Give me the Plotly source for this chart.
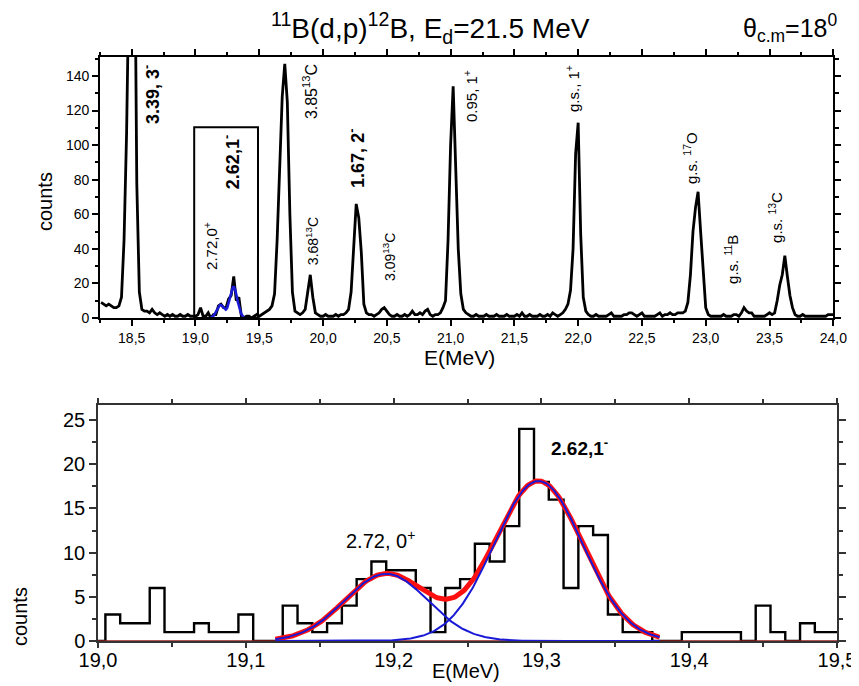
import numpy as np
import plotly.graph_objects as go

# ---------------- data ----------------
# Top panel: 11B(d,p)12B spectrum, counts on a 0.02 MeV grid starting at 18.26 MeV
spectrum_start = 18.26
spectrum_step = 0.02
spectrum_counts = [
    9, 8, 7, 8, 7, 6, 6, 7, 12, 45,            # 18.26 - 18.44
    107, 200, 300, 260, 78, 15, 5, 4, 4, 3,     # 18.46 - 18.64
    5, 3, 2, 3, 2, 1, 2, 1, 2, 1,               # 18.66 - 18.84
    1, 2, 1, 1, 2, 1, 1, 1, 2, 6,               # 18.86 - 19.04
    1, 1, 3, 0, 2, 2, 7, 8, 6, 6,               # 19.06 - 19.24
    11, 13, 24, 10, 12, 1, 0, 1, 1, 0,          # 19.26 - 19.44
    1, 2, 1, 2, 3, 4, 5, 7, 14, 45,             # 19.46 - 19.64
    85, 128, 147, 125, 60, 15, 4, 3, 2, 3,      # 19.66 - 19.84
    5, 15, 25, 12, 3, 2, 1, 1, 2, 1,            # 19.86 - 20.04
    1, 1, 2, 1, 2, 2, 3, 5, 15, 38,             # 20.06 - 20.24
    66, 58, 38, 8, 3, 2, 2, 1, 2, 3,            # 20.26 - 20.44
    5, 6, 4, 2, 1, 1, 2, 1, 1, 2,               # 20.46 - 20.64
    1, 2, 4, 2, 2, 3, 2, 4, 5, 2,               # 20.66 - 20.84
    1, 2, 2, 3, 6, 10, 45, 100, 134, 80,        # 20.86 - 21.04
    40, 14, 5, 3, 2, 1, 1, 2, 1, 1,             # 21.06 - 21.24
    1, 2, 1, 1, 1, 2, 1, 1, 1, 2,               # 21.26 - 21.44
    1, 1, 1, 2, 1, 3, 1, 1, 2, 1,               # 21.46 - 21.64
    1, 1, 2, 1, 1, 2, 1, 3, 2, 1,               # 21.66 - 21.84
    2, 3, 5, 8, 16, 40, 95, 113, 48, 12,        # 21.86 - 22.04
    4, 2, 1, 1, 2, 1, 1, 1, 1, 2,               # 22.06 - 22.24
    3, 1, 1, 1, 1, 2, 2, 3, 3, 2,               # 22.26 - 22.44
    1, 2, 3, 1, 1, 1, 1, 1, 2, 3,               # 22.46 - 22.64
    1, 2, 2, 3, 2, 2, 3, 3, 3, 4,               # 22.66 - 22.84
    9, 25, 50, 64, 73, 50, 25, 6, 2, 1,         # 22.86 - 23.04
    1, 1, 1, 1, 2, 1, 1, 1, 2, 2,               # 23.06 - 23.24
    1, 3, 6, 4, 3, 3, 1, 1, 1, 1,               # 23.26 - 23.44
    1, 2, 3, 2, 3, 10, 19, 25, 36, 24,          # 23.46 - 23.64
    13, 6, 2, 1, 1, 2, 1, 1, 1, 1,              # 23.66 - 23.84
    1, 1, 1, 1, 1, 2, 2, 2,                     # 23.86 - 24.00
]

# Bottom panel: zoomed histogram, 0.01 MeV bins centred 19.00 ... 19.50
hist_start = 19.00
hist_step = 0.01
hist_counts = [
    0, 3, 2, 2, 6, 1, 1, 2, 1, 1,
    3, 0, 0, 4, 2, 1, 2, 4, 7, 9,
    8, 8, 6, 1, 6, 7, 11, 9, 13, 24,
    18, 16, 6, 13, 12, 3, 1, 1, 0, 0,
    1, 1, 1, 1, 0, 4, 1, 0, 2, 1,
    1,
]

# Two-Gaussian fit (2.72, 0+ and 2.62, 1-)
fit_centers = [19.195, 19.298]
fit_amplitudes = [7.6, 18.1]
fit_sigmas = [0.028, 0.030]
fit_range = [19.12, 19.38]

top_xticks = [18.5, 19.0, 19.5, 20.0, 20.5, 21.0, 21.5, 22.0, 22.5, 23.0, 23.5, 24.0]
top_yticks = [0, 20, 40, 60, 80, 100, 120, 140]
bot_xticks = [19.0, 19.1, 19.2, 19.3, 19.4, 19.5]
bot_yticks = [0, 5, 10, 15, 20, 25]

# ---------------- derived ----------------
spec_e = spectrum_start + spectrum_step * np.arange(len(spectrum_counts))
hist_e = hist_start + hist_step * np.arange(len(hist_counts))

fit_e = np.linspace(fit_range[0], fit_range[1], 300)
components = [a * np.exp(-(fit_e - c) ** 2 / (2 * s ** 2))
              for c, a, s in zip(fit_centers, fit_amplitudes, fit_sigmas)]
fit_sum = components[0] + components[1]

FONT = "Arial, Liberation Sans, sans-serif"
# the page body has an 8px default margin: make the figure 8px smaller and
# convert window-pixel positions into figure-paper fractions accordingly
OFF = 8
W, H = 859 - OFF, 686 - OFF

def fx(px):
    return (px - OFF) / W

def fy(py):
    return 1 - (py - OFF) / H

fig = go.Figure()

# top panel
fig.add_trace(go.Scatter(x=spec_e, y=spectrum_counts, mode="lines",
                         line=dict(color="black", width=2.8),
                         xaxis="x", yaxis="y", showlegend=False))
fig.add_trace(go.Scatter(x=fit_e, y=fit_sum, mode="lines",
                         line=dict(color="#1a1ad6", width=2.6),
                         xaxis="x", yaxis="y", showlegend=False))

# bottom panel
fig.add_trace(go.Scatter(x=hist_e, y=hist_counts, mode="lines", line_shape="hvh",
                         line=dict(color="black", width=2.4),
                         xaxis="x2", yaxis="y2", showlegend=False))
fig.add_trace(go.Scatter(x=[19.0, 19.5], y=[0, 0], mode="lines",
                         line=dict(color="#9b1c1c", width=1.6),
                         xaxis="x2", yaxis="y2", showlegend=False))
fig.add_trace(go.Scatter(x=fit_e, y=fit_sum, mode="lines",
                         line=dict(color="#ff1010", width=5),
                         xaxis="x2", yaxis="y2", showlegend=False))
for comp in components:
    fig.add_trace(go.Scatter(x=fit_e, y=comp, mode="lines",
                             line=dict(color="#1a1ad6", width=2),
                             xaxis="x2", yaxis="y2", showlegend=False))

def axis_common(size, color="black"):
    return dict(showline=True, linecolor=color, linewidth=1.5, mirror="ticks",
                ticks="outside", tickwidth=1.5, tickcolor=color,
                showgrid=False, zeroline=False, automargin=False,
                tickfont=dict(family=FONT, size=size, color="black"))

fig.update_layout(
    width=W, height=H, autosize=False,
    margin=dict(l=0, r=0, t=0, b=0),
    paper_bgcolor="white", plot_bgcolor="white",
    separators=",.",
    showlegend=False,
    xaxis=dict(domain=[fx(99.8), fx(833.3)], range=[18.25, 24.0], anchor="y",
               tickvals=top_xticks, tickformat=".1f", ticklen=6,
               minor=dict(dtick=0.25, tick0=18.25, ticklen=3.5, ticks="outside",
                          tickwidth=1.5, tickcolor="black", showgrid=False),
               **axis_common(14)),
    yaxis=dict(domain=[fy(318), fy(57)], range=[0, 151], anchor="x",
               tickvals=top_yticks, ticklen=6,
               minor=dict(dtick=10, tick0=0, ticklen=3.5, ticks="outside",
                          tickwidth=1.5, tickcolor="black", showgrid=False),
               **axis_common(14)),
    xaxis2=dict(domain=[fx(98), fx(837)], range=[19.0, 19.5], anchor="y2",
                tickvals=bot_xticks, tickformat=".1f", ticklen=5,
                ticklabelstandoff=-5,
                minor=dict(dtick=0.05, tick0=19.0, ticklen=4, ticks="outside",
                           tickwidth=1.5, tickcolor="#333333", showgrid=False),
                **axis_common(20, "#333333")),
    yaxis2=dict(domain=[fy(641), fy(405)], range=[0, 26.7], anchor="x2",
                tickvals=bot_yticks, ticklen=7,
                minor=dict(dtick=2.5, tick0=0, ticklen=4, ticks="outside",
                           tickwidth=1.5, tickcolor="#333333", showgrid=False),
                **axis_common(20, "#333333")),
)

# box around the 2.62 / 2.72 doublet in the top panel
fig.add_shape(type="rect", xref="x", yref="y", x0=18.99, x1=19.49, y0=0, y1=110.3,
              line=dict(color="black", width=2))

def ann(text, x, y, size, bold=False, angle=-90, xref="x", yref="y"):
    if bold:
        text = "<b>" + text + "</b>"
    fig.add_annotation(text=text, x=x, y=y, xref=xref, yref=yref, showarrow=False,
                       textangle=angle, xanchor="center", yanchor="middle",
                       font=dict(family=FONT, size=size, color="black"))

# top panel level labels
ann("3.39, 3<sup>-</sup>", 18.659, 129.6, 18, bold=True)
ann("2.62,1<sup>-</sup>", 19.279, 90.2, 18, bold=True)
ann("2.72,0<sup>+</sup>", 19.122, 41.7, 15)
ann("3.85<sup>13</sup>C", 19.898, 130.7, 16)
ann("3.68<sup>13</sup>C", 19.914, 44.5, 14)
ann("1.67, 2<sup>-</sup>", 20.266, 92.6, 18, bold=True)
ann("3.09<sup>13</sup>C", 20.517, 35.3, 14)
ann("0.95, 1<sup>+</sup>", 21.152, 128.4, 15)
ann("g.s., 1<sup>+</sup>", 21.96, 132.5, 15)
ann("g.s. <sup>17</sup>O", 22.885, 92.6, 15)
ann("g.s. <sup>11</sup>B", 23.206, 33.6, 15)
ann("g.s. <sup>13</sup>C", 23.551, 57.9, 15)

# bottom panel labels
ann("2.72, 0<sup>+</sup>", 19.191, 11.45, 20, angle=0, xref="x2", yref="y2")
ann("2.62,1<sup>-</sup>", 19.326, 22.0, 19, bold=True, angle=0, xref="x2", yref="y2")

# titles and axis titles (positions given in window pixels)
def pann(text, px, py, size, angle=0):
    fig.add_annotation(text=text, x=fx(px), y=fy(py), xref="paper", yref="paper",
                       showarrow=False, textangle=angle, xanchor="center", yanchor="middle",
                       font=dict(family=FONT, size=size, color="black"))

pann("<sup>11</sup>B(d,p)<sup>12</sup>B, E<sub>d</sub>=21.5 MeV", 430, 28, 28)
pann("θ<sub>c.m</sub>=18<sup>0</sup>", 790, 28, 25)
pann("counts", 45, 202, 20, angle=-90)
pann("E(MeV)", 460, 357, 21)
pann("counts", 20, 617, 20, angle=-90)
pann("E(MeV)", 466, 671, 20)

fig.write_html("out.html")
